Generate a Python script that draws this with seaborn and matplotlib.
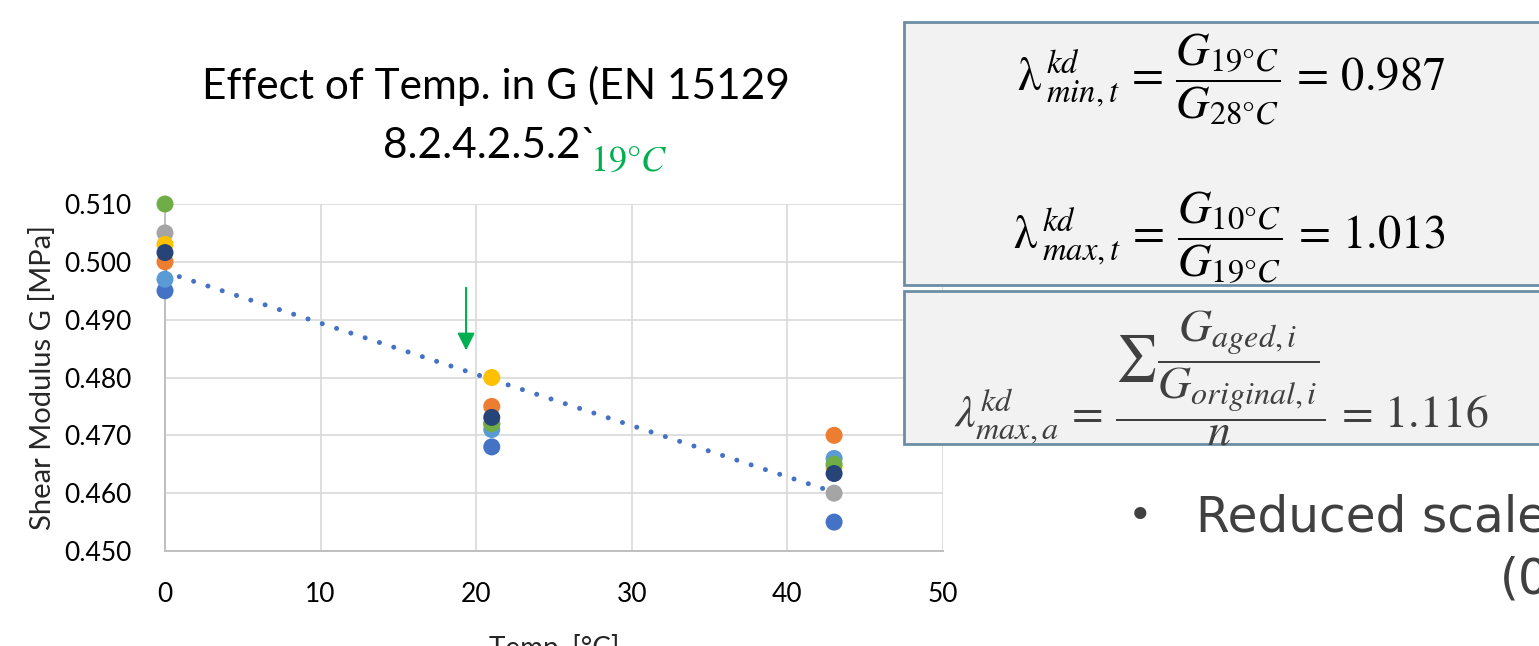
import numpy as np
import pandas as pd
import matplotlib
matplotlib.use("Agg")
import matplotlib.pyplot as plt
from matplotlib.patches import Rectangle
import seaborn as sns

# ---------------- data ----------------
temps = [0, 21, 43]
series_names = ["S1", "S2", "S3", "S4", "S5", "S6", "S7"]
s1 = [0.495, 0.468, 0.455]
s2 = [0.500, 0.475, 0.470]
s3 = [0.505, 0.472, 0.460]
s4 = [0.503, 0.480, 0.4645]
s5 = [0.497, 0.471, 0.466]
s6 = [0.510, 0.472, 0.465]
s7 = [0.5016, 0.4731, 0.4634]
series_values = [s1, s2, s3, s4, s5, s6, s7]
palette = ["#4472C4", "#ED7D31", "#A5A5A5", "#FFC000", "#5B9BD5", "#70AD47", "#264478"]
y_ticks = [0.450, 0.460, 0.470, 0.480, 0.490, 0.500, 0.510]
x_ticks = [0, 10, 20, 30, 40, 50]

rows = []
for name, vals in zip(series_names, series_values):
    for t, v in zip(temps, vals):
        rows.append({"temp": t, "G": v, "series": name})
df = pd.DataFrame(rows)

# ---------------- style ----------------
sns.set_theme(style="white")
plt.rcParams["font.family"] = ["Lato", "DejaVu Sans"]
plt.rcParams["mathtext.fontset"] = "stix"

W, H = 1539, 646
fig = plt.figure(figsize=(W / 100, H / 100), dpi=100)
fig.patch.set_facecolor("white")

def fx(px):
    return px / W

def fy(py):
    return 1 - py / H

ax = fig.add_axes([fx(165), fy(551), fx(943) - fx(165), fy(204) - fy(551)])
ax.set_facecolor("white")

# trendline (linear fit of all points)
sns.regplot(data=df, x="temp", y="G", scatter=False, ci=None, ax=ax,
            line_kws=dict(color="#4472C4", lw=3.6, linestyle=(0, (0.01, 3.0)),
                          dash_capstyle="round", zorder=2))

for name, col in zip(series_names, palette):
    sub = df[df["series"] == name]
    sns.scatterplot(data=sub, x="temp", y="G", color=col, s=150, edgecolor="none",
                    ax=ax, zorder=3, legend=False, clip_on=False)

ax.set_xlim(0, 50)
ax.set_ylim(0.450, 0.510)
ax.set_xticks(x_ticks)
ax.set_yticks(y_ticks)
ax.set_xticklabels([str(v) for v in x_ticks])
ax.set_yticklabels([f"{v:.3f}" for v in y_ticks])
ax.tick_params(axis="both", length=0, labelsize=19, colors="#000000")
ax.tick_params(axis="x", pad=22)
ax.tick_params(axis="y", pad=24)
ax.grid(True, color="#D9D9D9", lw=1.2)
ax.set_axisbelow(True)
for side in ["top", "right"]:
    ax.spines[side].set_visible(False)
for side in ["left", "bottom"]:
    ax.spines[side].set_color("#BFBFBF")
    ax.spines[side].set_linewidth(1.4)

ax.set_xlabel("Temp. [°C]", fontsize=20, labelpad=20)
ax.set_ylabel("Shear Modulus G [MPa]", fontsize=21, labelpad=6)

# green arrow at 19 °C
ax.annotate("", xy=(19.35, 0.4842), xytext=(19.35, 0.4960),
            arrowprops=dict(arrowstyle="-|>", color="#00B050", lw=1.5,
                            mutation_scale=26), zorder=4)

# title
fig.text(fx(496), fy(86), "Effect of Temp. in G (EN 15129", fontsize=30.5,
         ha="center", va="center", color="#000000")
fig.text(fx(490), fy(146), "8.2.4.2.5.2`", fontsize=30.5,
         ha="center", va="center", color="#000000")
fig.text(fx(590), fy(160), r"$19°C$", fontsize=26, ha="left", va="center",
         color="#00B050")

# formula boxes
box_kw = dict(facecolor="#F2F2F2", edgecolor="#6C8EA3", lw=2.0, zorder=5,
              transform=fig.transFigure)
fig.add_artist(Rectangle((fx(904), fy(285)), fx(1560) - fx(904), fy(22) - fy(285), **box_kw))
fig.add_artist(Rectangle((fx(904), fy(444)), fx(1560) - fx(904), fy(291) - fy(444), **box_kw))

fig.text(fx(1231), fy(80),
         r"$\mathrm{\lambda}\,^{kd}_{min,t}\,=\,\dfrac{G_{19°C}}{G_{28°C}}\,=\,0.987$",
         fontsize=33.5, ha="center", va="center", color="black", zorder=6)
fig.text(fx(1229), fy(238),
         r"$\mathrm{\lambda}\,^{kd}_{max,t}\,=\,\dfrac{G_{10°C}}{G_{19°C}}\,=\,1.013$",
         fontsize=33.5, ha="center", va="center", color="black", zorder=6)
fig.text(fx(1221), fy(378),
         r"$\lambda^{kd}_{max,a}\,=\,\dfrac{\sum\dfrac{G_{aged,i}}{G_{original,i}}}{n}\,=\,1.116$",
         fontsize=33, ha="center", va="center", color="#404040", zorder=6)

# bullet text (clipped at the right edge)
fig.text(fx(1140), fy(517), "•", fontsize=30, ha="center", va="center",
         color="#404040", family=["DejaVu Sans"])
fig.text(fx(1196), fy(517), "Reduced scale", fontsize=35, ha="left", va="center",
         color="#404040", family=["DejaVu Sans"])
fig.text(fx(1500), fy(580), "(0", fontsize=35, ha="left", va="center",
         color="#404040", family=["DejaVu Sans"])

fig.savefig("out.png", dpi=100)
